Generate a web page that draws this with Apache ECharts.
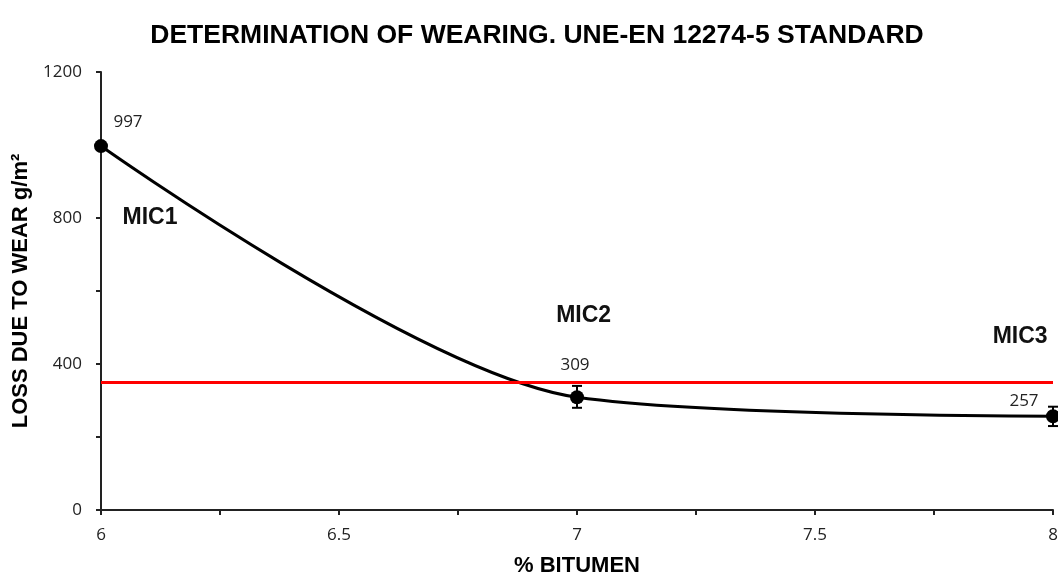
<!DOCTYPE html>
<html style="height: 100%">
    <head>
        <meta charset="utf-8">
        <script src="https://cdn.jsdelivr.net/npm/echarts@6/dist/echarts.min.js"></script>
    </head>
    <body style="height: 100%; margin: 0; background: #fff">
        <div id="container" style="width: 1058px; height: 577px"></div>
    </body>
<script>

// data
var bitumen = [6, 7, 8];
var wearLoss = [997, 309, 257];
var errLow = [997, 280, 230];
var errHigh = [997, 340, 283];
var mixNames = ['MIC1', 'MIC2', 'MIC3'];
var limitValue = 350;

var dom = document.getElementById("container");
var myChart = echarts.init(dom);

// label offsets for the value labels next to each point
var valueLabelOffsets = [[27, -24], [-2, -32], [-29, -15]];

var lineData = bitumen.map(function (x, i) {
    return {
        value: [x, wearLoss[i]],
        label: {
            show: true,
            position: 'inside',
            offset: valueLabelOffsets[i],
            formatter: String(wearLoss[i]),
            color: '#222',
            fontSize: 17,
            fontFamily: 'Open Sans'
        }
    };
});

var errData = bitumen.map(function (x, i) {
    return [x, errLow[i], errHigh[i]];
});

var boldName = {
    fontFamily: 'Liberation Sans',
    fontWeight: 'bold',
    fontSize: 22,
    color: '#000'
};

var option = {
    animation: false,
    title: {
        text: 'DETERMINATION OF WEARING. UNE-EN 12274-5 STANDARD',
        left: 532,
        textAlign: 'center',
        top: 17,
        textStyle: {
            fontFamily: 'Liberation Sans',
            fontWeight: 'bold',
            fontSize: 26.5,
            color: '#000'
        }
    },
    grid: {
        left: 101,
        right: 5,
        top: 72,
        bottom: 67,
        outerBoundsMode: 'none'
    },
    xAxis: {
        type: 'value',
        min: 6,
        max: 8,
        interval: 0.25,
        name: '% BITUMEN',
        nameLocation: 'middle',
        nameGap: 45,
        nameTextStyle: boldName,
        splitLine: { show: false },
        axisLine: { lineStyle: { color: '#222', width: 2 } },
        axisTick: { length: 5, lineStyle: { color: '#222', width: 2 } },
        axisLabel: {
            margin: 17,
            color: '#222',
            fontSize: 17,
            fontFamily: 'Open Sans',
            formatter: function (v) {
                return (Math.round(v * 100) % 50 === 0) ? String(v) : '';
            }
        }
    },
    yAxis: {
        type: 'value',
        min: 0,
        max: 1200,
        interval: 200,
        name: 'LOSS DUE TO WEAR g/m\u00b2',
        nameLocation: 'middle',
        nameGap: 67,
        nameTextStyle: boldName,
        splitLine: { show: false },
        axisLine: { show: true, lineStyle: { color: '#222', width: 2 } },
        axisTick: { show: true, length: 5, lineStyle: { color: '#222', width: 2 } },
        axisLabel: {
            margin: 19,
            color: '#222',
            fontSize: 17,
            fontFamily: 'Open Sans',
            formatter: function (v) {
                return (v % 400 === 0) ? String(v) : '';
            }
        }
    },
    series: [{
        type: 'line',
        data: lineData,
        smooth: 0.3,
        symbol: 'circle',
        symbolSize: 14,
        lineStyle: { color: '#000', width: 3 },
        itemStyle: { color: '#000' },
        markLine: {
            silent: true,
            symbol: 'none',
            label: { show: false },
            lineStyle: { color: '#ff0000', width: 3, type: 'solid' },
            data: [{ yAxis: limitValue }]
        },
        markPoint: {
            symbol: 'circle',
            symbolSize: 0,
            label: {
                show: true,
                position: 'inside',
                fontFamily: 'Liberation Sans',
                fontWeight: 'bold',
                fontSize: 23,
                color: '#111',
                formatter: '{b}'
            },
            data: [
                { name: mixNames[0], coord: [6.103, 802] },
                { name: mixNames[1], coord: [7.014, 533] },
                { name: mixNames[2], coord: [7.931, 476] }
            ]
        },
        z: 3
    }, {
        type: 'custom',
        data: errData,
        z: 4,
        renderItem: function (params, api) {
            var x = api.value(0);
            var lo = api.coord([x, api.value(1)]);
            var hi = api.coord([x, api.value(2)]);
            var cap = 5;
            var st = { stroke: '#000', lineWidth: 2 };
            return {
                type: 'group',
                children: [
                    { type: 'line', shape: { x1: lo[0], y1: lo[1], x2: hi[0], y2: hi[1] }, style: st },
                    { type: 'line', shape: { x1: lo[0] - cap, y1: lo[1], x2: lo[0] + cap, y2: lo[1] }, style: st },
                    { type: 'line', shape: { x1: hi[0] - cap, y1: hi[1], x2: hi[0] + cap, y2: hi[1] }, style: st }
                ]
            };
        }
    }]
};

myChart.setOption(option);

</script>
</html>
